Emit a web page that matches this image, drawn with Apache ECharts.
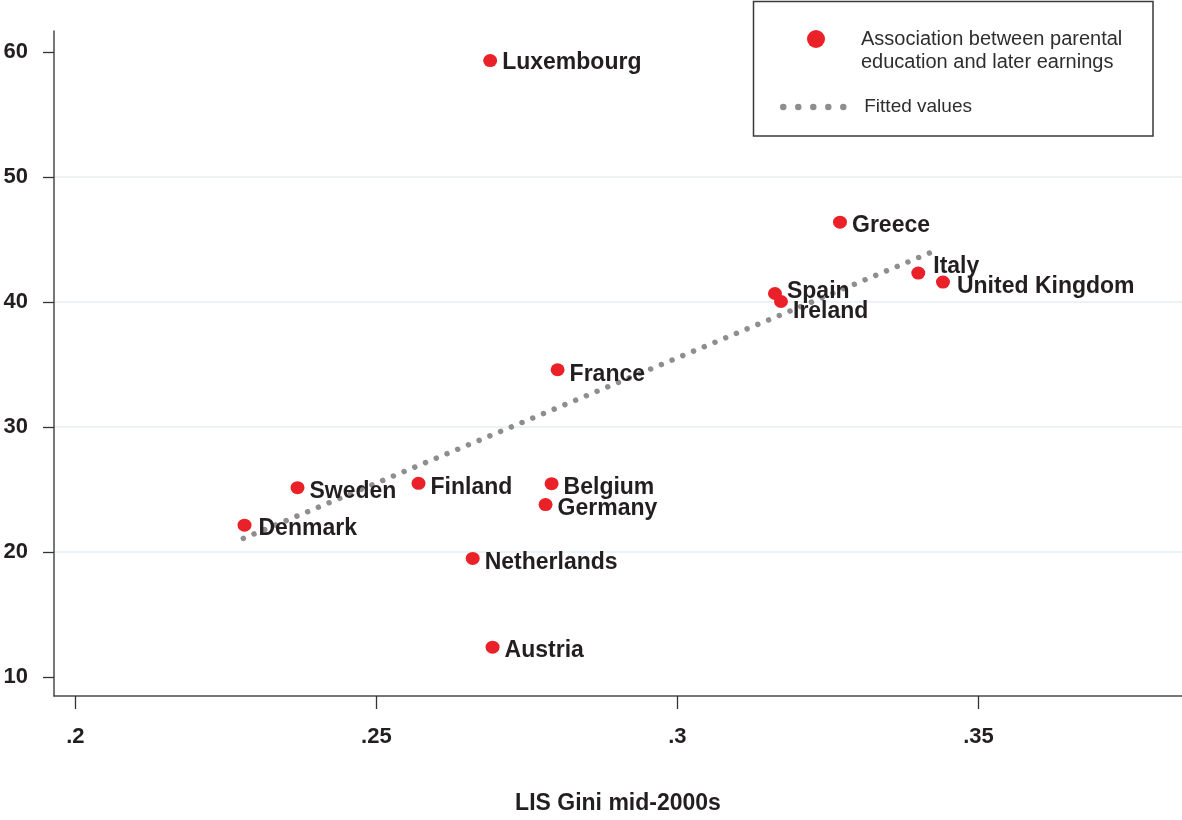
<!DOCTYPE html>
<html>
<head>
<meta charset="utf-8">
<script src="https://cdn.jsdelivr.net/npm/echarts@6/dist/echarts.min.js"></script>
<style>
  html, body { margin: 0; padding: 0; background: #ffffff; }
  #chart { width: 1182px; height: 820px; }
</style>
</head>
<body>
<div id="chart"></div>
<script>
// Countries, income inequality (LIS Gini, mid-2000s) and the association
// between parental education and later earnings.
const countries = ['Luxembourg', 'Greece', 'Italy', 'United Kingdom', 'Spain', 'Ireland', 'France',
                   'Sweden', 'Finland', 'Denmark', 'Belgium', 'Germany', 'Netherlands', 'Austria'];
const gini = [0.2689, 0.3270, 0.3400, 0.3441, 0.3162, 0.3172, 0.2801,
              0.2369, 0.2570, 0.2281, 0.2791, 0.2781, 0.2660, 0.2693];
const association = [59.31, 46.38, 42.31, 41.59, 40.67, 40.03, 34.57,
                     25.13, 25.48, 22.13, 25.45, 23.78, 19.47, 12.37];

// Fitted regression line end points
const fittedX = [0.2279, 0.3424];
const fittedY = [21.07, 44.02];

// Axis ticks
const xTicks = [0.2, 0.25, 0.3, 0.35];
const yTicks = [10, 20, 30, 40, 50, 60];

const seriesNames = ['Association between parental\neducation and later earnings', 'Fitted values'];

// Label nudges (dx, dy); labels sit slightly below their marker by default
const LABEL_DY = 4;
const labelNudge = {
  'Italy': [3, -6],
  'Spain': [0, -2],
  'Ireland': [0, 10],
  'United Kingdom': [2, 5],
  'Denmark': [2, 3],
  'Greece': [0, 3],
  'France': [0, 5],
  'Luxembourg': [0, 2]
};

const FONT = '"Liberation Sans", Arial, Helvetica, sans-serif';
const INK = '#231f20';
const RED = '#ea2129';
const GREY = '#8e8e8e';

const points = countries.map((c, i) => ({ name: c, value: [gini[i], association[i]] }));
const fitted = fittedX.map((x, i) => [x, fittedY[i]]);

const fmtTick = v => String(+v.toFixed(2)).replace(/^0\./, '.');

const chart = echarts.init(document.getElementById('chart'), null, { renderer: 'canvas' });
chart.setOption({
  animation: false,
  backgroundColor: '#ffffff',
  textStyle: { fontFamily: FONT },
  grid: { left: 54, right: 0, top: 31, bottom: 122 },
  xAxis: {
    type: 'value',
    min: 0.19646,
    max: 0.3838,
    name: 'LIS Gini mid-2000s',
    nameLocation: 'middle',
    nameGap: 96,
    nameTextStyle: { fontFamily: FONT, fontWeight: 'bold', fontSize: 23, color: INK },
    axisLine: { show: true, onZero: false, lineStyle: { color: '#4a4a4a', width: 1.5 } },
    axisTick: { show: true, length: 13, customValues: xTicks, lineStyle: { color: '#333333', width: 1.3 } },
    axisLabel: {
      customValues: xTicks, margin: 30,
      fontFamily: FONT, fontWeight: 'bold', fontSize: 22, color: INK,
      formatter: fmtTick
    },
    splitLine: { show: false }
  },
  yAxis: {
    type: 'value',
    min: 8.46,
    max: 61.68,
    axisLine: { show: true, onZero: false, lineStyle: { color: '#4a4a4a', width: 1.5 } },
    axisTick: { show: true, length: 11, customValues: yTicks, lineStyle: { color: '#333333', width: 1.3 } },
    axisLabel: {
      customValues: yTicks, margin: 26,
      fontFamily: FONT, fontWeight: 'bold', fontSize: 22, color: INK
    },
    splitLine: { show: true, showMinLine: false, showMaxLine: false, lineStyle: { color: '#e6eef2', width: 1.5 } }
  },
  legend: [
    {
      // circle is centred inside an 80px icon slot; the box starts at the circle's edge
      orient: 'vertical', left: 807, top: 4.5, padding: 0,
      itemWidth: 80, itemHeight: 18,
      textStyle: { fontFamily: FONT, fontSize: 20, color: '#2e2e2e', lineHeight: 23 },
      formatter: name => ' \n' + name,
      data: [{ name: seriesNames[0], icon: 'circle', itemStyle: { color: RED, opacity: 1 } }],
      selectedMode: false
    },
    {
      orient: 'vertical', left: 780, top: 95.5, padding: 0,
      itemWidth: 64, itemHeight: 18,
      textStyle: { fontFamily: FONT, fontSize: 19, color: '#2e2e2e', lineHeight: 23, padding: [0, 0, 0, 12] },
      data: [{
        name: seriesNames[1],
        itemStyle: { opacity: 0 },
        lineStyle: { type: [0.01, 15], width: 6.5, cap: 'round', color: GREY, opacity: 1 }
      }],
      selectedMode: false
    }
  ],
  graphic: [
    {
      type: 'rect', z: 100, silent: true,
      shape: { x: 753.5, y: 1.5, width: 399.5, height: 134.5 },
      style: { fill: 'none', stroke: '#3a3a3a', lineWidth: 1.5 }
    }
  ],
  series: [
    {
      name: seriesNames[1],
      type: 'line',
      data: fitted,
      showSymbol: false,
      symbol: 'none',
      z: 2,
      lineStyle: { color: GREY, width: 5.5, type: [0.01, 11.6], cap: 'round' },
      itemStyle: { color: GREY },
      silent: true
    },
    {
      name: seriesNames[0],
      type: 'scatter',
      data: points,
      symbol: 'circle',
      symbolSize: [14, 13],
      z: 3,
      itemStyle: { color: RED, opacity: 1 },
      label: {
        show: true,
        position: 'right',
        distance: 5,
        formatter: p => p.name,
        fontFamily: FONT, fontWeight: 'bold', fontSize: 23, color: INK, opacity: 1
      },
      labelLayout: p => {
        const n = labelNudge[countries[p.dataIndex]];
        return n ? { dx: n[0], dy: n[1] } : { dx: 0, dy: LABEL_DY };
      },
      silent: true
    }
  ]
});
</script>
</body>
</html>
